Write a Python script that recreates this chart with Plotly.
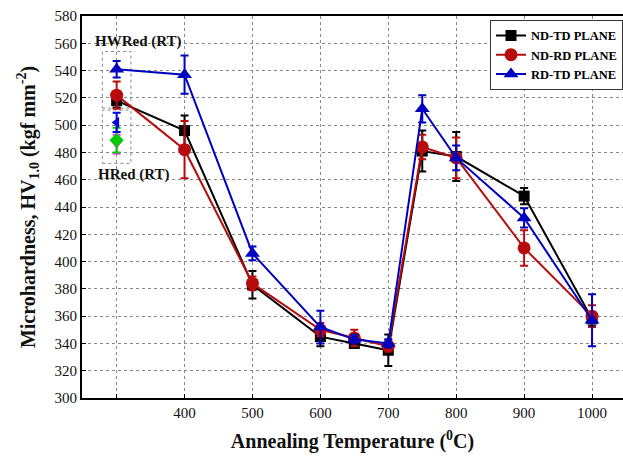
import plotly.graph_objects as go

temps = [300, 400, 500, 600, 650, 700, 750, 800, 900, 1000]

ndtd = [518, 496, 383, 345, 340, 335, 481, 477, 448, 358]
ndtd_err = [5, 11, 10, 7, 3, 11.5, 15, 18, 6, 5]

ndrd = [522, 482, 384, 350, 344, 338, 484, 476, 410, 360]
ndrd_err = [10, 21, 5, 5, 6, 4, 9, 15, 13, 8]

rdtd = [541, 537, 406, 352, 343, 340, 512, 476, 432, 357]
rdtd_err = [6, 14, 5, 12, 3, 3, 10, 9, 7, 19]

hred_x = [300]
hred_blue = [502]
hred_blue_err = [7]
hred_magenta = [486]
hred_magenta_err = [7]
hred_green = [489]
hred_green_err = [9]

x_ticks = [400, 500, 600, 700, 800, 900, 1000]
y_ticks = list(range(300, 581, 20))

FONT = "Liberation Serif, Times New Roman, serif"

fig = go.Figure()

def series(name, y, err, color, symbol, size):
    fig.add_trace(go.Scatter(
        x=temps, y=y, name=name,
        mode="lines+markers",
        line=dict(color=color, width=2),
        marker=dict(symbol=symbol, size=size, color=color),
        error_y=dict(type="data", array=err, visible=True, color=color,
                     thickness=2, width=4),
    ))

series("<b>ND-TD PLANE</b>", ndtd, ndtd_err, "#000000", "square", 11)
series("<b>ND-RD PLANE</b>", ndrd, ndrd_err, "#b80c0c", "circle", 13)
series("<b>RD-TD PLANE</b>", rdtd, rdtd_err, "#0000c0", "triangle-up", 13)

# HRed (RT) points
for y, e, c, s, sz in [
    (hred_magenta, hred_magenta_err, "#ff33ff", "triangle-down", 9),
    (hred_green, hred_green_err, "#00cc00", "diamond", 11),
    (hred_blue, hred_blue_err, "#0000e0", "triangle-left", 10),
]:
    fig.add_trace(go.Scatter(
        x=hred_x, y=y, mode="markers", showlegend=False,
        marker=dict(symbol=s, size=sz, color=c),
        error_y=dict(type="data", array=e, visible=True, color=c,
                     thickness=2, width=4),
    ))

# dotted boxes
for y0, y1 in [(512.5, 554), (472, 511)]:
    fig.add_shape(type="rect", xref="x", yref="y", x0=279, x1=321, y0=y0, y1=y1,
                  line=dict(color="#888888", width=1, dash="dot"), layer="below")

fig.add_annotation(x=332, y=561, xref="x", yref="y", text="<b>HWRed (RT)</b>",
                   showarrow=False, font=dict(family=FONT, size=15, color="#111"))
fig.add_annotation(x=325, y=464, xref="x", yref="y", text="<b>HRed (RT)</b>",
                   showarrow=False, font=dict(family=FONT, size=15, color="#111"))

fig.update_layout(
    width=623, height=460,
    margin=dict(l=82, r=0, t=16, b=62),
    plot_bgcolor="white", paper_bgcolor="white",
    font=dict(family=FONT, size=15, color="#111"),
    legend=dict(x=1.0, xanchor="right", y=0.99, yanchor="top",
                bgcolor="white", bordercolor="#333", borderwidth=1,
                font=dict(family=FONT, size=12.5, color="#000"),
                tracegroupgap=0, itemwidth=30),
    xaxis=dict(
        range=[249, 1045.6], tickvals=x_ticks, automargin=False,
        showline=True, linecolor="black", linewidth=2, mirror=True,
        ticks="inside", ticklen=4, tickcolor="black",
        showgrid=True, gridcolor="#888", griddash="dot", gridwidth=1,
        minor=dict(tick0=300, dtick=100, showgrid=True, gridcolor="#888",
                   griddash="dot", gridwidth=1, ticks="inside", ticklen=4,
                   tickcolor="black"),
        zeroline=False,
        title=dict(text="<b>Annealing Temperature (<sup>0</sup>C)</b>",
                   font=dict(family=FONT, size=20, color="#111"), standoff=14),
    ),
    yaxis=dict(
        range=[300, 580], tickvals=y_ticks, automargin=False,
        showline=True, linecolor="black", linewidth=2,
        ticks="inside", ticklen=4, tickcolor="black",
        showgrid=True, gridcolor="#888", griddash="dot", gridwidth=1,
        zeroline=False,
        title=dict(text="<b>Microhardness, HV<sub>1.0</sub> (kgf mm<sup>-2</sup>)</b>",
                   font=dict(family=FONT, size=20, color="#111"), standoff=14),
    ),
)

fig.write_html("out.html", config={"displayModeBar": False},
               post_script="document.body.style.margin='0';document.body.style.overflow='hidden';")
